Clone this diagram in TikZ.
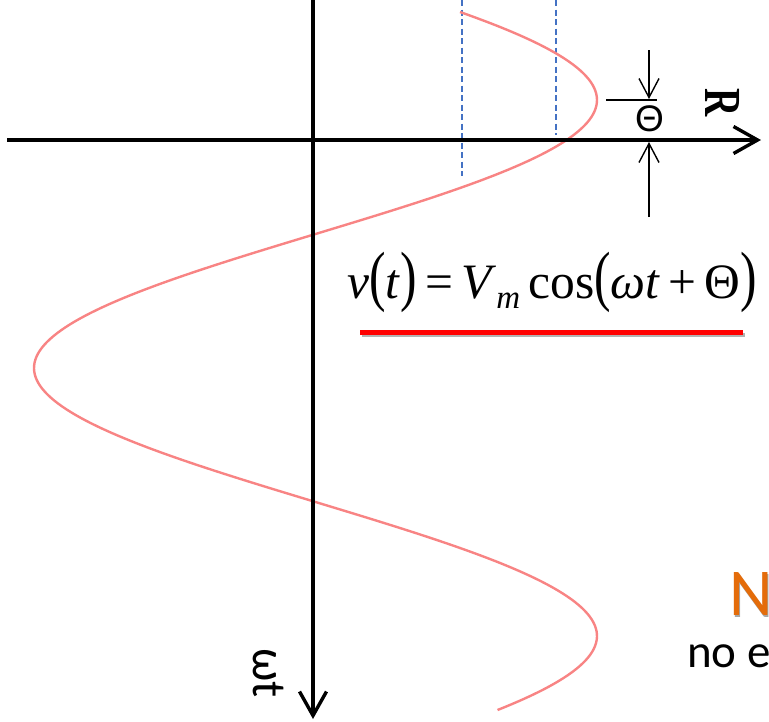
\documentclass[tikz,border=0pt]{standalone}
\usepackage{fontspec}
\setmainfont{Liberation Serif}
\newfontfamily\calibfont{Carlito}
\newfontfamily\arialfont{Liberation Sans}
\usetikzlibrary{arrows.meta}
\definecolor{curvered}{RGB}{248,132,132}
\definecolor{dashblue}{RGB}{68,114,196}
\definecolor{orangeN}{RGB}{228,108,10}
\newcommand\tallp[1]{\scalebox{1}[1.35]{#1}}
\begin{document}
\begin{tikzpicture}[x=1pt,y=-1pt,
  axisline/.style={line width=3.4pt,-{Straight Barb[length=24pt,width=27pt,line width=3.4pt]}},
  thetaarrow/.style={line width=1.4pt,-{Straight Barb[length=19pt,width=20pt,line width=1.4pt]}},
  guide/.style={dashblue,line width=1.2pt,dash pattern=on 6pt off 3.5pt},
  wave/.style={curvered,line width=2.4pt},
  txt/.style={inner sep=0pt}]
\useasboundingbox (0,0) rectangle (769,721);
% guide lines
\coordinate (g1t) at (462,0);
\coordinate (g1b) at (462,176);
\coordinate (g2t) at (556,0);
\coordinate (g2b) at (556,135);
\draw[guide] (g1t) -- (g1b);
\draw[guide] (g2t) -- (g2b);
% cosine wave
\draw[wave] plot[domain=12:710,samples=240,variable=\t] ({315.5+281.5*cos(0.67164*(\t-100))},{\t});
% axes
\coordinate (xl) at (7,140);
\coordinate (xr) at (761,140);
\coordinate (yt) at (313,-5);
\coordinate (yb) at (313,719);
\draw[axisline] (xl) -- (xr);
\draw[axisline] (yt) -- (yb);
% axis labels
\node[txt,rotate=-90,font=\fontsize{52}{52}\selectfont\bfseries] (R) at (723,103) {\scalebox{0.75}[1]{R}};
\node[txt,rotate=-90,anchor=base west,font=\calibfont\fontsize{48}{48}\selectfont] (wt) at (253,648) {ωt};
% theta marker
\coordinate (peakL) at (606,100);
\coordinate (peakR) at (657,100);
\draw[line width=1.5pt] (peakL) -- (peakR);
\coordinate (a1s) at (649,50);
\coordinate (a1e) at (649,99);
\coordinate (a2s) at (649,217);
\coordinate (a2e) at (649,142);
\draw[thetaarrow] (a1s) -- (a1e);
\draw[thetaarrow] (a2s) -- (a2e);
\node[txt,font=\arialfont\fontsize{37}{37}\selectfont] (theta) at (649.5,119) {Θ};
% formula
\node[txt,anchor=base west,font=\fontsize{49.5}{54}\selectfont] (eq) at (347,298)
  {\textit{v}\tallp{(}\textit{t}\tallp{)}\,=\,\textit{V}\raisebox{-0.22em}{\fontsize{33}{33}\selectfont\textit{m}}\,cos\tallp{(}\textit{ωt}\,+\,Θ\tallp{)}};
\coordinate (ulL) at (360,332);
\coordinate (ulR) at (743,332);
\draw[black!30,line width=4pt] ([shift={(1.5,2.5)}]ulL) -- ([shift={(1.5,2.5)}]ulR);
\draw[red,line width=5pt] (ulL) -- (ulR);
% right-hand text
\node[txt,anchor=base west,font=\calibfont\fontsize{67}{67}\selectfont,text=black!35] (Nsh) at (730.5,617.5) {N};
\node[txt,anchor=base west,font=\calibfont\fontsize{67}{67}\selectfont,text=orangeN] (N) at (729,615) {N};
\node[txt,anchor=base west,font=\calibfont\fontsize{47}{47}\selectfont] (noe) at (687,667) {no e};
\end{tikzpicture}
\end{document}
